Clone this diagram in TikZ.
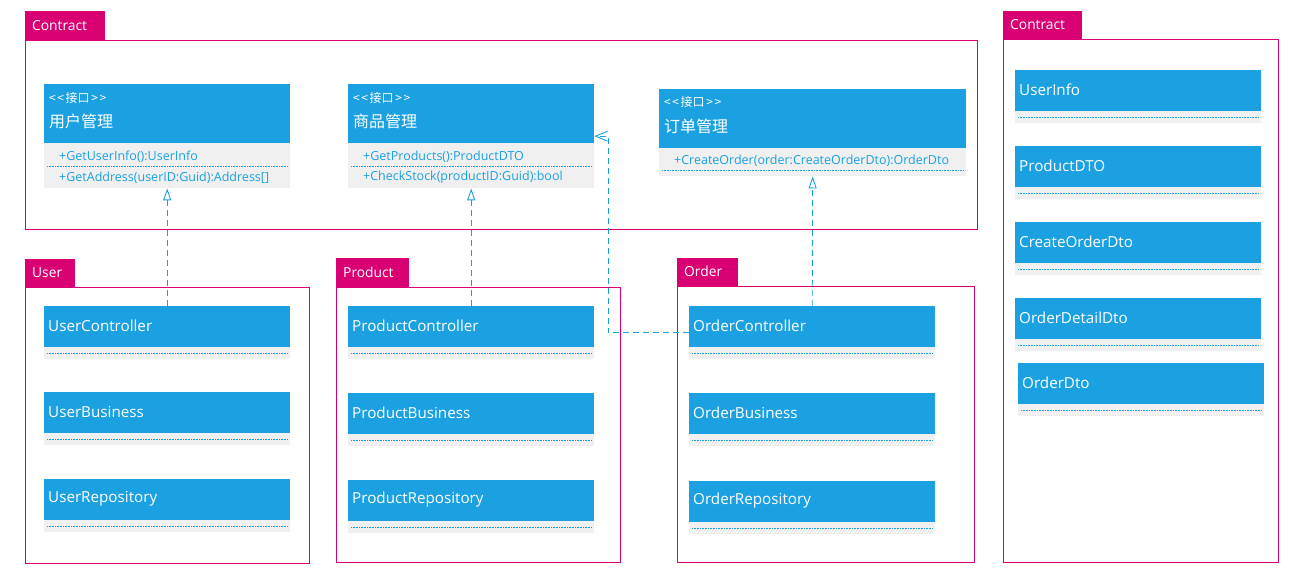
\documentclass[tikz,border=0pt]{standalone}
\usepackage{fontspec}
\setmainfont{Open Sans}
\newfontfamily\cjk{Noto Sans CJK SC}
\usetikzlibrary{arrows.meta}
\definecolor{umlblue}{HTML}{1BA1E2}
\definecolor{umlmag}{HTML}{D80073}
\definecolor{umlgray}{HTML}{F0F0F0}
\tikzset{
  frame/.style={draw=umlmag, line width=0.9pt, inner sep=0pt, anchor=north west},
  tab/.style={fill=umlmag, text=white, inner sep=0pt, anchor=north west, font=\fontsize{13.8}{16}\selectfont},
  clsbox/.style={fill=umlgray, inner sep=0pt, minimum width=246pt, minimum height=53pt, anchor=north west},
  ifbox/.style={fill=umlgray, inner sep=0pt, anchor=north west},
  clstxt/.style={text=white, inner sep=0pt, anchor=west, font=\fontsize{15.2}{18}\selectfont},
  methtxt/.style={text=umlblue, inner sep=0pt, anchor=west, font=\fontsize{12.5}{15}\selectfont},
  stereo/.style={text=white, inner sep=0pt, anchor=west, font=\cjk\fontsize{12}{14}\selectfont},
  iftitle/.style={text=white, inner sep=0pt, anchor=west, font=\cjk\fontsize{16}{19}\selectfont},
  dotline/.style={draw=umlblue, line width=0.5pt, dash pattern=on 0.8pt off 0.8pt},
  realize/.style={draw=umlblue, line width=0.9pt, dash pattern=on 6pt off 4pt, -{Triangle[open, length=12pt, width=8pt]}},
  depend/.style={draw=umlblue, line width=0.9pt, dash pattern=on 6pt off 4pt, -{Straight Barb[length=12pt, width=10pt]}},
}
\newcommand\stereotxt{<\hspace{1.6pt}<\hspace{1.6pt}接口\hspace{1.6pt}>\hspace{1.6pt}>}
\newcommand\umlcls[4]{%
  \node[clsbox] (#1) at (#2,#3) {};
  \fill[umlblue] (#1.north west) rectangle ([yshift=-41pt]#1.north east);
  \node[clstxt] at ([xshift=4pt,yshift=-20pt]#1.north west) {#4};
  \draw[dotline] ([xshift=3pt,yshift=-47pt]#1.north west) -- ([xshift=-3pt,yshift=-47pt]#1.north east);
}
\begin{document}
\begin{tikzpicture}[x=1pt,y=-1pt]
\useasboundingbox (0,0) rectangle (1304,588);
% frames and tabs
\node[tab, minimum width=80pt, minimum height=29pt] (tc1) at (25,11) {};
\node[tab, anchor=west] at ([xshift=7pt,yshift=0.5pt]tc1.west) {Contract};
\node[frame, minimum width=952pt, minimum height=189pt] (fc1) at (25,40) {};
\node[tab, minimum width=79pt, minimum height=28pt] (tc2) at (1003,11) {};
\node[tab, anchor=west] at ([xshift=7pt,yshift=0.5pt]tc2.west) {Contract};
\node[frame, minimum width=275pt, minimum height=523pt] (fc2) at (1003,39) {};
\node[tab, minimum width=50pt, minimum height=28pt] (tu) at (25,259) {};
\node[tab, anchor=west] at ([xshift=7pt,yshift=0.5pt]tu.west) {User};
\node[frame, minimum width=284pt, minimum height=276pt] (fu) at (25,287) {};
\node[tab, minimum width=73pt, minimum height=29pt] (tp) at (336,258) {};
\node[tab, anchor=west] at ([xshift=7pt,yshift=0.5pt]tp.west) {Product};
\node[frame, minimum width=284pt, minimum height=275pt] (fp) at (336,287) {};
\node[tab, minimum width=61pt, minimum height=28pt] (to) at (677,258) {};
\node[tab, anchor=west] at ([xshift=7pt,yshift=0.5pt]to.west) {Order};
\node[frame, minimum width=297pt, minimum height=276pt] (fo) at (677,286) {};
% interfaces
\node[ifbox, minimum width=246pt, minimum height=104pt] (ui) at (44,84) {};
\fill[umlblue] (ui.north west) rectangle ([yshift=-59pt]ui.north east);
\node[stereo] at ([xshift=5pt,yshift=-14pt]ui.north west) {\stereotxt};
\node[iftitle] at ([xshift=5pt,yshift=-37pt]ui.north west) {用户管理};
\node[methtxt] at ([xshift=15pt,yshift=-72.5pt]ui.north west) {+GetUserInfo():UserInfo};
\draw[dotline] ([xshift=3pt,yshift=-82pt]ui.north west) -- ([xshift=-3pt,yshift=-82pt]ui.north east);
\node[methtxt] at ([xshift=15pt,yshift=-93.5pt]ui.north west) {+GetAddress(userID:Guid):Address[]};

\node[ifbox, minimum width=246pt, minimum height=104pt] (pi) at (348,84) {};
\fill[umlblue] (pi.north west) rectangle ([yshift=-59pt]pi.north east);
\node[stereo] at ([xshift=5pt,yshift=-14pt]pi.north west) {\stereotxt};
\node[iftitle] at ([xshift=5pt,yshift=-37pt]pi.north west) {商品管理};
\node[methtxt] at ([xshift=15pt,yshift=-72.5pt]pi.north west) {+GetProducts():ProductDTO};
\draw[dotline] ([xshift=3pt,yshift=-82pt]pi.north west) -- ([xshift=-3pt,yshift=-82pt]pi.north east);
\node[methtxt] at ([xshift=15pt,yshift=-93.5pt]pi.north west) {+CheckStock(productID:Guid):bool};

\node[ifbox, minimum width=307pt, minimum height=87pt] (oi) at (659,89) {};
\fill[umlblue] (oi.north west) rectangle ([yshift=-59pt]oi.north east);
\node[stereo] at ([xshift=5pt,yshift=-13pt]oi.north west) {\stereotxt};
\node[iftitle] at ([xshift=5pt,yshift=-37pt]oi.north west) {订单管理};
\node[methtxt] at ([xshift=15pt,yshift=-72pt]oi.north west) {+CreateOrder(order:CreateOrderDto):OrderDto};
\draw[dotline] ([xshift=3pt,yshift=-81pt]oi.north west) -- ([xshift=-3pt,yshift=-81pt]oi.north east);
% classes
\umlcls{uc}{44}{306}{UserController}
\umlcls{ub}{44}{392}{UserBusiness}
\umlcls{ur}{44}{479}{UserRepository}
\umlcls{pc}{348}{306}{ProductController}
\umlcls{pb}{348}{393}{ProductBusiness}
\umlcls{pr}{348}{480}{ProductRepository}
\umlcls{oc}{689}{306}{OrderController}
\umlcls{ob}{689}{393}{OrderBusiness}
\umlcls{orp}{689}{481}{OrderRepository}
\umlcls{dui}{1015}{70}{UserInfo}
\umlcls{dpd}{1015}{146}{ProductDTO}
\umlcls{dco}{1015}{222}{CreateOrderDto}
\umlcls{dod}{1015}{298}{OrderDetailDto}
\umlcls{dor}{1018}{363}{OrderDto}
% connectors
\draw[realize] (uc.north) -- (ui.south);
\draw[realize] (pc.north) -- (pi.south);
\draw[realize] (oc.north) -- (oi.south);
\draw[depend] (oc.west) -- ++(-81,0) |- (pi.east);
\end{tikzpicture}
\end{document}
